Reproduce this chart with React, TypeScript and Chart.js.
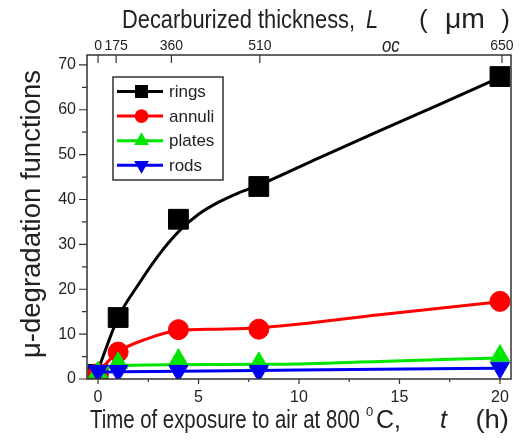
import React, { useEffect, useRef } from 'react';
import { Chart, registerables } from 'chart.js';

Chart.register(...registerables);

// ---- data ----
const times = [0, 1, 4, 8, 20];
const rings = [1.0, 13.7, 35.6, 42.9, 67.4];
const annuli = [1.2, 6.0, 11.0, 11.1, 17.3];
const plates = [1.5, 3.6, 4.3, 3.6, 5.2];
const rods = [1.8, 1.8, 1.8, 1.8, 2.5];

// fitted curves (as drawn in the reference)
const ringsFitT = [0, 1, 2, 3, 4, 5, 6, 7, 8, 11, 14, 17, 20];
const ringsFitY = [2.0, 13.7, 21.0, 27.5, 32.8, 36.7, 39.4, 41.5, 43.2, 49.3, 55.3, 61.2, 67.2];
const annuliFitT = [0, 1, 2.4, 4, 6, 8, 14, 20];
const annuliFitY = [1.5, 6.0, 8.9, 10.8, 11.1, 11.4, 14.3, 17.2];
const platesFitT = [0, 0.5, 1, 4, 9, 14, 20];
const platesFitY = [1.2, 2.6, 3.0, 3.2, 3.3, 3.9, 4.7];
const rodsFitT = [0, 1, 4, 8, 14, 20];
const rodsFitY = [1.5, 1.6, 1.7, 1.9, 2.2, 2.4];

const seriesLabels = ['rings', 'annuli', 'plates', 'rods'];

// axes
const xTickValues = [0, 2.5, 5, 7.5, 10, 12.5, 15, 17.5, 20];
const yTickValues = [0, 5, 10, 15, 20, 25, 30, 35, 40, 45, 50, 55, 60, 65, 70];
const topTickPositions = [0, 0.9, 3.65, 8.05, 20.1];
const topTickLabels = ['0', '175', '360', '510', '650'];

// ---- styles ----
const FONT = '"Liberation Sans", Arial, Helvetica, sans-serif';
const colors = ['#000000', '#ff0000', '#00e600', '#0000f0'];
const pointStyles = ['rect', 'circle', 'triangle', 'triangle'];
const pointRotations = [0, 0, 0, 180];
const pointRadii = [14, 10, 11, 11];
const legendRadii = [9.2, 6.8, 8.5, 8.5];

function toPoints(xs: number[], ys: number[]) {
  return xs.map((x, i) => ({ x, y: ys[i] }));
}

function drawMarker(ctx: CanvasRenderingContext2D, style: string, rot: number, r: number, x: number, y: number) {
  ctx.beginPath();
  if (style === 'rect') {
    const s = r * Math.SQRT1_2;
    ctx.rect(x - s, y - s, 2 * s, 2 * s);
  } else if (style === 'circle') {
    ctx.arc(x, y, r, 0, Math.PI * 2);
  } else {
    const dir = rot === 180 ? -1 : 1;
    const a0 = -Math.PI / 2;
    for (let k = 0; k < 3; k++) {
      const a = a0 + (k * 2 * Math.PI) / 3;
      const px = x + Math.cos(a) * r;
      const py = y + Math.sin(a) * r * dir;
      if (k === 0) ctx.moveTo(px, py);
      else ctx.lineTo(px, py);
    }
    ctx.closePath();
  }
  ctx.fill();
}

// draws text horizontally scaled; returns drawn width
function txt(ctx: CanvasRenderingContext2D, s: string, x: number, y: number, font: string, sx = 1, align: CanvasTextAlign = 'left') {
  ctx.save();
  ctx.font = font;
  ctx.textAlign = align;
  ctx.translate(x, y);
  ctx.scale(sx, 1);
  ctx.fillText(s, 0, 0);
  const w = ctx.measureText(s).width * sx;
  ctx.restore();
  return w;
}

const decorPlugin = {
  id: 'decor',
  afterDatasetsDraw(chart: any) {
    const { ctx, chartArea: a, scales } = chart;
    const sx = scales.x, sy = scales.y, sx2 = scales.x2;
    ctx.save();
    // frame
    ctx.strokeStyle = '#333';
    ctx.lineWidth = 1.5;
    ctx.strokeRect(a.left, a.top, a.right - a.left, a.bottom - a.top);
    // tick marks
    ctx.lineWidth = 1.2;
    ctx.beginPath();
    xTickValues.forEach((v) => {
      const px = sx.getPixelForValue(v);
      const len = v % 5 === 0 ? 5 : 3;
      ctx.moveTo(px, a.bottom);
      ctx.lineTo(px, a.bottom + len);
    });
    yTickValues.forEach((v) => {
      const py = sy.getPixelForValue(v);
      const len = v % 10 === 0 ? 8 : 5;
      ctx.moveTo(a.left, py);
      ctx.lineTo(a.left - len, py);
    });
    topTickPositions.forEach((v) => {
      const px = sx2.getPixelForValue(v);
      ctx.moveTo(px, a.top);
      ctx.lineTo(px, a.top + 8);
    });
    ctx.stroke();

    // legend
    const lx = a.left + 26, ly = a.top + 22, lw = 110, lh = 103;
    ctx.fillStyle = '#fff';
    ctx.fillRect(lx, ly, lw, lh);
    ctx.strokeStyle = '#333';
    ctx.lineWidth = 1.5;
    ctx.strokeRect(lx, ly, lw, lh);
    ctx.font = `17px ${FONT}`;
    ctx.textBaseline = 'middle';
    ctx.textAlign = 'left';
    seriesLabels.forEach((lab, i) => {
      const yy = ly + 14.5 + i * 24.6;
      ctx.strokeStyle = colors[i];
      ctx.fillStyle = colors[i];
      ctx.lineWidth = 3;
      ctx.beginPath();
      ctx.moveTo(lx + 4, yy);
      ctx.lineTo(lx + 50, yy);
      ctx.stroke();
      drawMarker(ctx, pointStyles[i], pointRotations[i], legendRadii[i], lx + 28.5, yy);
      ctx.fillStyle = '#222';
      ctx.fillText(lab, lx + 56, yy + 1);
    });

    // titles
    ctx.fillStyle = '#222';
    ctx.textBaseline = 'alphabetic';
    // top title
    const topY = 28;
    const NS = 0.84;
    txt(ctx, 'Decarburized thickness,', 122, topY, `26px ${FONT}`, NS);
    txt(ctx, 'L', 366, topY, `italic 26px ${FONT}`, NS);
    txt(ctx, 'oc', 382, topY + 24, `italic 20px ${FONT}`, NS);
    txt(ctx, '(', 419, topY, `26px ${FONT}`, 1);
    txt(ctx, '\u03bcm', 465, topY, `27px ${FONT}`, 1.05, 'center');
    txt(ctx, ')', 510, topY, `26px ${FONT}`, 1, 'right');

    // bottom title
    const botY = 428;
    txt(ctx, 'Time of exposure to air at 800', 90, botY, `25px ${FONT}`, 0.815);
    txt(ctx, '0', 366, botY - 12, `13px ${FONT}`, 1);
    txt(ctx, 'C,', 376, botY, `25px ${FONT}`, 1);
    txt(ctx, 't', 440, botY, `italic 25px ${FONT}`, 1);
    txt(ctx, '(h)', 509, botY, `25px ${FONT}`, 1.1, 'right');

    // y title
    ctx.save();
    ctx.translate(40, 214);
    ctx.rotate(-Math.PI / 2);
    txt(ctx, '\u03bc-degradation functions', 0, 0, `27.5px ${FONT}`, 1, 'center');
    ctx.restore();

    ctx.restore();
  },
};

export default function App() {
  const ref = useRef<HTMLCanvasElement | null>(null);
  useEffect(() => {
    if (!ref.current) return;
    const fits = [
      toPoints(ringsFitT, ringsFitY),
      toPoints(annuliFitT, annuliFitY),
      toPoints(platesFitT, platesFitY),
      toPoints(rodsFitT, rodsFitY),
    ];
    const marks = [rings, annuli, plates, rods].map((vals) => toPoints(times, vals));
    const datasets: any[] = [];
    seriesLabels.forEach((lab, i) => {
      datasets.push({
        label: lab + ' fit',
        data: fits[i],
        borderColor: colors[i],
        borderWidth: 3,
        pointRadius: 0,
        showLine: true,
        fill: false,
        cubicInterpolationMode: 'monotone',
        clip: 0,
        order: 8 - 2 * i,
      });
      datasets.push({
        label: lab,
        data: marks[i],
        showLine: false,
        pointStyle: pointStyles[i],
        pointRotation: pointRotations[i],
        pointRadius: pointRadii[i],
        pointBackgroundColor: colors[i],
        pointBorderColor: colors[i],
        pointBorderWidth: 1,
        clip: 0,
        order: 7 - 2 * i,
      });
    });

    const tickFont = { family: FONT, size: 16 };
    const chart = new Chart(ref.current, {
      type: 'scatter',
      data: { datasets },
      plugins: [decorPlugin],
      options: {
        animation: false,
        responsive: false,
        events: [],
        layout: { padding: { left: 0, right: 11, top: 0, bottom: 0 } },
        plugins: { legend: { display: false }, tooltip: { enabled: false } },
        scales: {
          x: {
            type: 'linear',
            position: 'bottom',
            min: -0.55,
            max: 20.55,
            grid: { display: false, drawTicks: false },
            border: { display: false },
            afterBuildTicks: (s: any) => {
              s.ticks = xTickValues.map((v) => ({ value: v }));
            },
            afterFit: (s: any) => {
              s.height = 65;
            },
            ticks: {
              autoSkip: false,
              maxRotation: 0,
              padding: 9,
              color: '#222',
              font: tickFont,
              callback: (v: any) => (Number(v) % 5 === 0 ? String(v) : ''),
            },
          },
          x2: {
            type: 'linear',
            position: 'top',
            min: -0.55,
            max: 20.55,
            grid: { display: false, drawTicks: false },
            border: { display: false },
            afterBuildTicks: (s: any) => {
              s.ticks = topTickPositions.map((v) => ({ value: v }));
            },
            afterFit: (s: any) => {
              s.height = 55;
            },
            ticks: {
              autoSkip: false,
              maxRotation: 0,
              padding: 0,
              color: '#222',
              font: { family: FONT, size: 14 },
              callback: (_v: any, i: number) => topTickLabels[i],
            },
          },
          y: {
            type: 'linear',
            position: 'left',
            min: 0,
            max: 72.2,
            grid: { display: false, drawTicks: false },
            border: { display: false },
            afterBuildTicks: (s: any) => {
              s.ticks = yTickValues.map((v) => ({ value: v }));
            },
            afterFit: (s: any) => {
              s.width = 87;
            },
            ticks: {
              autoSkip: false,
              padding: 11,
              color: '#222',
              font: tickFont,
              callback: (v: any) => (Number(v) % 10 === 0 ? String(v) : ''),
            },
          },
        },
      },
    } as any);
    return () => chart.destroy();
  }, []);

  return (
    <div style={{ position: 'fixed', left: 0, top: 0, width: 526, height: 444, background: '#fff' }}>
      <canvas ref={ref} width={526} height={444} style={{ width: 526, height: 444, display: 'block' }} />
    </div>
  );
}
